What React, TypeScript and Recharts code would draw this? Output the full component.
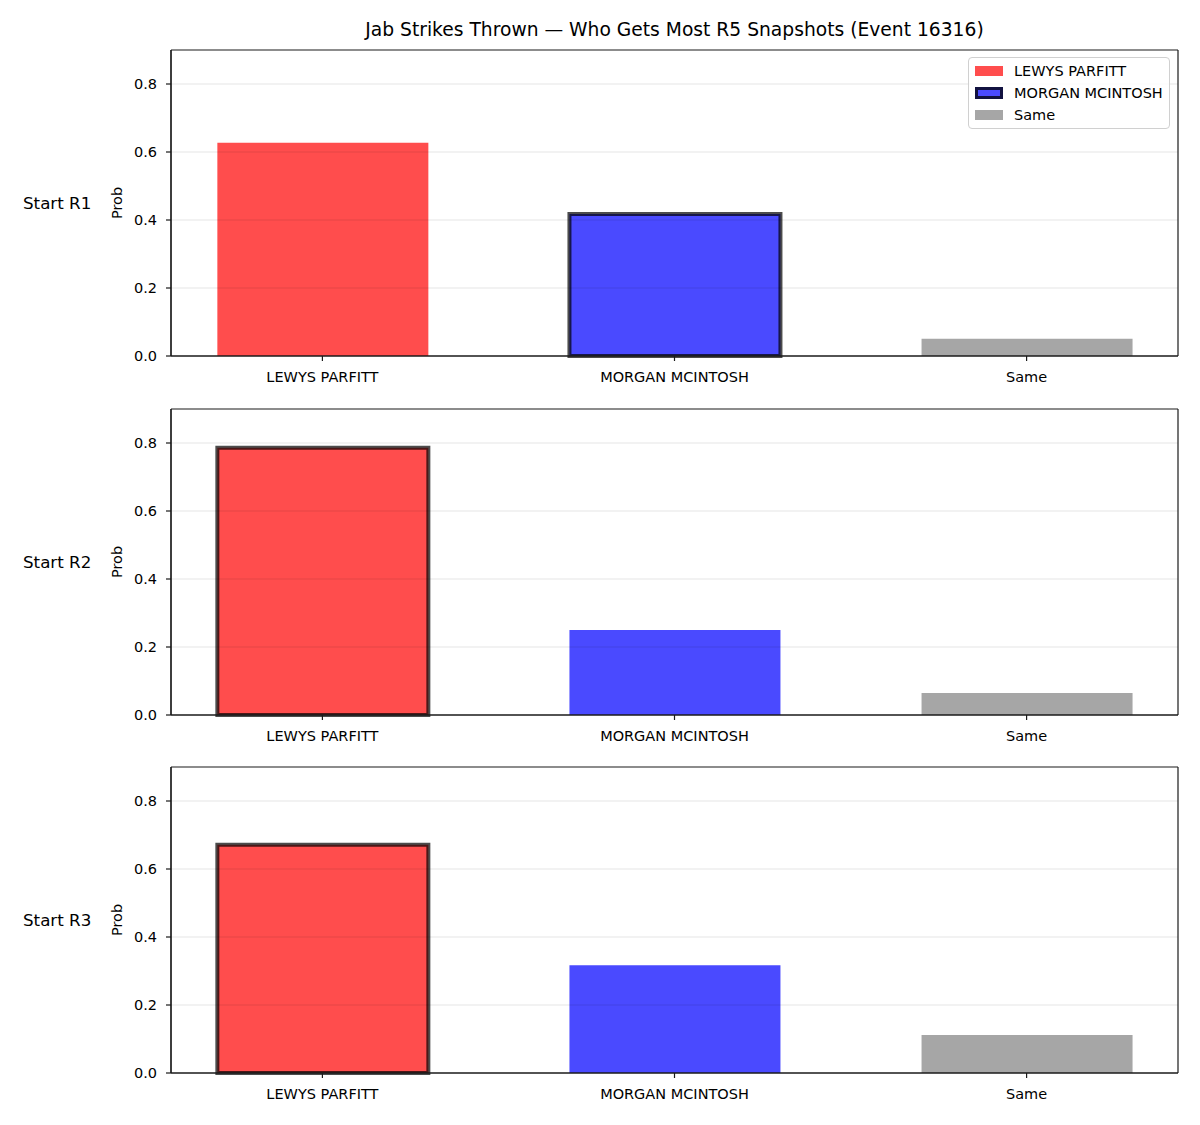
import React from 'react';
import { BarChart, Bar, XAxis, YAxis, Cell, ReferenceLine } from 'recharts';

const title = 'Jab Strikes Thrown — Who Gets Most R5 Snapshots (Event 16316)';
const categories = ['LEWYS PARFITT', 'MORGAN MCINTOSH', 'Same'];
const rowLabels = ['Start R1', 'Start R2', 'Start R3'];
const probR1 = [0.627, 0.418, 0.051];
const probR2 = [0.786, 0.25, 0.065];
const probR3 = [0.671, 0.317, 0.112];
const rows = [probR1, probR2, probR3];
const highlighted = [1, 0, 0];
const yTicks = [0, 0.2, 0.4, 0.6, 0.8];
const gridTicks = [0.2, 0.4, 0.6, 0.8];
const xTicks = [0, 1, 2];
const xDomain: [number, number] = [-0.43, 2.43];
const yDomain: [number, number] = [0, 0.9];
const colors = ['#ff4d4d', '#4a4aff', '#a6a6a6'];

const FONT = '"DejaVu Sans", sans-serif';
const SPINE = '#1a1a1a';
const TICK_FS = 14.5;
const panelTops = [50, 408.5, 767];
const PLOT_H = 306;
const TOP_PAD = 20;
const X_AXIS_H = 40;

const LegendBox = () => (
  <div
    style={{
      position: 'absolute',
      left: 968,
      top: 57,
      width: 202,
      height: 72,
      border: '1px solid #d0d0d0',
      borderRadius: 4,
      background: 'rgba(255,255,255,0.8)',
      boxSizing: 'border-box',
      fontFamily: FONT,
      fontSize: TICK_FS,
      paddingTop: 2,
    }}
  >
    {categories.map((c, i) => (
      <div key={c} style={{ display: 'flex', alignItems: 'center', height: 22 }}>
        <div
          style={{
            marginLeft: 6,
            width: 28,
            height: i === 1 ? 12 : 10,
            boxSizing: 'border-box',
            background: colors[i],
            border: i === 1 ? '3px solid rgba(0,0,0,0.75)' : 'none',
          }}
        />
        <span style={{ marginLeft: 11, color: '#000', whiteSpace: 'nowrap' }}>{c}</span>
      </div>
    ))}
  </div>
);

const Panel = ({ idx }: { idx: number }) => {
  const values = rows[idx];
  const data = categories.map((name, i) => ({ pos: xTicks[i], name, value: values[i] }));
  const label = (props: any) => {
    const vb = props.viewBox || { x: 111, y: TOP_PAD, width: 60, height: PLOT_H };
    const cy = vb.y + vb.height / 2;
    return (
      <g>
        <text x={23} y={cy} fontSize={16.7} fontFamily={FONT} fill="#000" dominantBaseline="central">
          {rowLabels[idx]}
        </text>
        <text
          x={117}
          y={cy}
          fontSize={TICK_FS}
          fontFamily={FONT}
          fill="#000"
          textAnchor="middle"
          dominantBaseline="central"
          transform={`rotate(-90, 117, ${cy})`}
        >
          Prob
        </text>
      </g>
    );
  };
  return (
    <div style={{ position: 'absolute', left: 0, top: panelTops[idx] - TOP_PAD }}>
      <BarChart
        width={1200}
        height={TOP_PAD + PLOT_H + X_AXIS_H}
        data={data}
        margin={{ top: TOP_PAD, right: 22, bottom: 0, left: 111 }}
      >
        <XAxis
          dataKey="pos"
          type="number"
          domain={xDomain}
          allowDataOverflow
          ticks={xTicks}
          tickFormatter={(v: number) => categories[v] ?? ''}
          height={X_AXIS_H}
          tickSize={5}
          tickMargin={11}
          axisLine={{ stroke: SPINE, strokeWidth: 1.2 }}
          tickLine={{ stroke: SPINE, strokeWidth: 1.2 }}
          tick={{ fill: '#000', fontSize: TICK_FS, fontFamily: FONT }}
          interval={0}
        />
        <YAxis
          type="number"
          domain={yDomain}
          ticks={yTicks}
          tickFormatter={(v: number) => v.toFixed(1)}
          width={60}
          tickSize={5}
          tickMargin={9}
          axisLine={{ stroke: SPINE, strokeWidth: 1.2 }}
          tickLine={{ stroke: SPINE, strokeWidth: 1.2 }}
          tick={{ fill: '#000', fontSize: TICK_FS, fontFamily: FONT }}
          label={{ content: label }}
        />
        <Bar dataKey="value" barSize={211} isAnimationActive={false}>
          {data.map((d, i) => (
            <Cell
              key={d.name}
              fill={colors[i]}
              stroke={highlighted[idx] === i ? 'rgba(0,0,0,0.7)' : 'none'}
              strokeWidth={highlighted[idx] === i ? 4 : 0}
            />
          ))}
        </Bar>
        {gridTicks.map((t) => (
          <ReferenceLine key={t} y={t} stroke="#000" strokeOpacity={0.1} strokeWidth={1} />
        ))}
        <ReferenceLine y={yDomain[1]} stroke={SPINE} strokeWidth={1.2} />
        <ReferenceLine x={xDomain[1]} stroke={SPINE} strokeWidth={1.2} />
        <ReferenceLine x={xDomain[0]} stroke={SPINE} strokeWidth={1.2} />
        <ReferenceLine y={yDomain[0]} stroke={SPINE} strokeWidth={1.2} />
      </BarChart>
    </div>
  );
};

export default function App() {
  return (
    <div style={{ position: 'absolute', left: 0, top: 0, width: 1200, height: 1125, background: '#fff' }}>
      <div
        style={{
          position: 'absolute',
          left: 171,
          width: 1007,
          top: 18,
          textAlign: 'center',
          fontFamily: FONT,
          fontSize: 18.7,
          color: '#000',
          lineHeight: '24px',
          whiteSpace: 'nowrap',
        }}
      >
        {title}
      </div>
      {[0, 1, 2].map((i) => (
        <Panel key={i} idx={i} />
      ))}
      <LegendBox />
    </div>
  );
}
